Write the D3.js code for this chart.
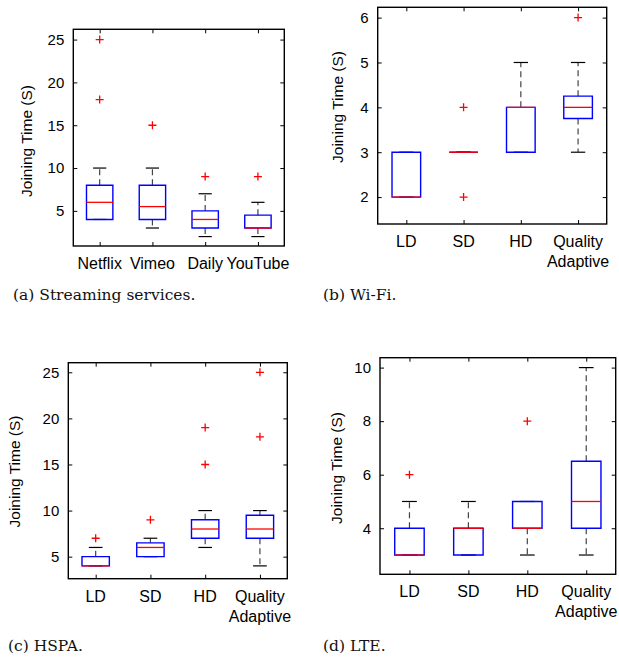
<!DOCTYPE html>
<html>
<head>
<meta charset="utf-8">
<script src="https://cdn.jsdelivr.net/npm/d3@7"></script>
<style>
  body { margin: 0; background: #fff; }
  svg { display: block; }
  .tick text { font-family: "Liberation Sans", Arial, sans-serif; }
</style>
</head>
<body>
<svg id="fig" width="619" height="657"></svg>
<script>
// Categories
const serviceCats = [['Netflix'], ['Vimeo'], ['Daily'], ['YouTube']];
const qualityCats = [['LD'], ['SD'], ['HD'], ['Quality', 'Adaptive']];

// (a) Streaming services
const streamLo  = [4, 3, 2, 2];
const streamQ1  = [4, 4, 3, 3];
const streamMed = [6, 5.5, 4, 3];
const streamQ3  = [8, 8, 5, 4.5];
const streamHi  = [10, 10, 7, 6];
const streamOut = [[18, 25], [15], [9], [9]];

// (b) Wi-Fi
const wifiLo  = [2, 3, 3, 3];
const wifiQ1  = [2, 3, 3, 3.75];
const wifiMed = [2, 3, 4, 4];
const wifiQ3  = [3, 3, 4, 4.25];
const wifiHi  = [3, 3, 5, 5];
const wifiOut = [[], [2, 4], [], [6]];

// (c) HSPA
const hspaLo  = [4, 5, 6, 4];
const hspaQ1  = [4, 5, 7, 7];
const hspaMed = [4, 6, 8, 8];
const hspaQ3  = [5, 6.5, 9, 9.5];
const hspaHi  = [6, 7, 10, 10];
const hspaOut = [[7], [9], [15, 19], [18, 25]];

// (d) LTE
const lteLo  = [3, 3, 3, 3];
const lteQ1  = [3, 3, 4, 4];
const lteMed = [3, 4, 4, 5];
const lteQ3  = [4, 4, 5, 6.5];
const lteHi  = [5, 5, 5, 10];
const lteOut = [[6], [], [8], []];

const yTicksBig = [5, 10, 15, 20, 25];
const yTicksWifi = [2, 3, 4, 5, 6];
const yTicksLte = [4, 6, 8, 10];

const yTitle = 'Joining Time (S)';

const panels = [
  { cats: serviceCats, lo: streamLo, q1: streamQ1, med: streamMed, q3: streamQ3, hi: streamHi, out: streamOut,
    box: [73.3, 284.3, 29.3, 246], domain: [0.9, 26.2], ticks: yTicksBig,
    ylab: [26.7, 141], caption: '(a) Streaming services.', cap: [13, 300] },
  { cats: qualityCats, lo: wifiLo, q1: wifiQ1, med: wifiMed, q3: wifiQ3, hi: wifiHi, out: wifiOut,
    box: [377.7, 606.7, 7.3, 224], domain: [1.4, 6.23], ticks: yTicksWifi,
    ylab: [338, 107], caption: '(b) Wi-Fi.', cap: [323, 300] },
  { cats: qualityCats, lo: hspaLo, q1: hspaQ1, med: hspaMed, q3: hspaQ3, hi: hspaHi, out: hspaOut,
    box: [68.3, 287.3, 362.7, 578.7], domain: [2.61, 26.04], ticks: yTicksBig,
    ylab: [15, 471.5], caption: '(c) HSPA.', cap: [8, 651] },
  { cats: qualityCats, lo: lteLo, q1: lteQ1, med: lteMed, q3: lteQ3, hi: lteHi, out: lteOut,
    box: [380, 615.7, 357.7, 574.3], domain: [2.28, 10.37], ticks: yTicksLte,
    ylab: [336.7, 468], caption: '(d) LTE.', cap: [323, 651] },
];

const svg = d3.select('#fig');

panels.forEach((p) => {
  const [x0, x1, y0, y1] = p.box;
  const g = svg.append('g');

  const x = d3.scaleBand()
    .domain(d3.range(p.cats.length))
    .range([x0, x1]);
  const y = d3.scaleLinear()
    .domain(p.domain)
    .range([y1, y0]);
  const bw = x.bandwidth();
  const cx = (i) => x(i) + bw / 2;

  // Ticks on all four sides, pointing inwards
  const yLeft = g.append('g')
    .attr('transform', `translate(${x0},0)`)
    .call(d3.axisLeft(y).tickValues(p.ticks).tickFormat(d3.format('d'))
      .tickSizeInner(-4).tickSizeOuter(0).tickPadding(9));
  yLeft.selectAll('text').style('font-size', '15px').attr('fill', '#000');

  g.append('g')
    .attr('transform', `translate(${x1},0)`)
    .call(d3.axisRight(y).tickValues(p.ticks).tickSizeInner(-4).tickSizeOuter(0).tickFormat(''));

  const xAxisScale = d3.scalePoint().domain(d3.range(p.cats.length)).range([cx(0), cx(p.cats.length - 1)]);
  g.append('g')
    .attr('transform', `translate(0,${y1})`)
    .call(d3.axisBottom(xAxisScale).tickSizeInner(-4).tickSizeOuter(0).tickFormat(''));
  g.append('g')
    .attr('transform', `translate(0,${y0})`)
    .call(d3.axisTop(xAxisScale).tickSizeInner(-4).tickSizeOuter(0).tickFormat(''));

  g.selectAll('.domain').remove();
  g.selectAll('.tick line').attr('stroke', '#000').attr('stroke-width', 1);

  // Category labels (some on two lines)
  const lab = g.selectAll('text.cat')
    .data(p.cats)
    .enter()
    .append('text')
    .attr('class', 'cat')
    .attr('x', (d, i) => cx(i))
    .attr('y', y1 + 23)
    .attr('text-anchor', 'middle')
    .style('font-family', '"Liberation Sans", Arial, sans-serif')
    .style('font-size', '16px');
  lab.selectAll('tspan')
    .data((d) => d)
    .enter()
    .append('tspan')
    .attr('x', function() { return this.parentNode.getAttribute('x'); })
    .attr('dy', (d, i) => (i === 0 ? 0 : 20))
    .text((d) => d);

  // Y title
  g.append('text')
    .attr('transform', `translate(${p.ylab[0]},${p.ylab[1]}) rotate(-90)`)
    .attr('text-anchor', 'middle')
    .attr('dy', '0.35em')
    .style('font-family', '"Liberation Sans", Arial, sans-serif')
    .style('font-size', '15.5px')
    .text(yTitle);

  const idx = d3.range(p.cats.length);

  // Whiskers (dashed)
  g.selectAll('line.wu')
    .data(idx.filter((i) => p.hi[i] > p.q3[i]))
    .enter()
    .append('line')
    .attr('x1', cx).attr('x2', cx)
    .attr('y1', (i) => y(p.q3[i]))
    .attr('y2', (i) => y(p.hi[i]))
    .attr('stroke', '#444')
    .attr('stroke-width', 1.2)
    .attr('stroke-dasharray', '6,4');

  g.selectAll('line.wl')
    .data(idx.filter((i) => p.lo[i] < p.q1[i]))
    .enter()
    .append('line')
    .attr('x1', cx).attr('x2', cx)
    .attr('y1', (i) => y(p.q1[i]))
    .attr('y2', (i) => y(p.lo[i]))
    .attr('stroke', '#444')
    .attr('stroke-width', 1.2)
    .attr('stroke-dasharray', '6,4');

  // Whisker caps
  const caps = [];
  idx.forEach((i) => { caps.push({ i, v: p.lo[i] }); caps.push({ i, v: p.hi[i] }); });
  g.selectAll('line.cap')
    .data(caps)
    .enter()
    .append('line')
    .attr('x1', (d) => cx(d.i) - bw / 8)
    .attr('x2', (d) => cx(d.i) + bw / 8)
    .attr('y1', (d) => y(d.v))
    .attr('y2', (d) => y(d.v))
    .attr('stroke', '#000')
    .attr('stroke-width', 1.2);

  // Boxes
  g.selectAll('path.box')
    .data(idx)
    .enter()
    .append('path')
    .attr('d', (i) => {
      const l = cx(i) - bw / 4;
      const r = cx(i) + bw / 4;
      return `M${l},${y(p.q1[i])}H${r}V${y(p.q3[i])}H${l}Z`;
    })
    .attr('fill', 'none')
    .attr('stroke', '#0000ff')
    .attr('stroke-width', 1.4);

  // Medians
  g.selectAll('line.med')
    .data(idx)
    .enter()
    .append('line')
    .attr('x1', (i) => cx(i) - bw / 4)
    .attr('x2', (i) => cx(i) + bw / 4)
    .attr('y1', (i) => y(p.med[i]))
    .attr('y2', (i) => y(p.med[i]))
    .attr('stroke', '#ff0000')
    .attr('stroke-width', 1.3);

  // Outliers
  const outs = [];
  idx.forEach((i) => p.out[i].forEach((v) => outs.push({ i, v })));
  g.selectAll('path.out')
    .data(outs)
    .enter()
    .append('path')
    .attr('transform', (d) => `translate(${cx(d.i)},${y(d.v)})`)
    .attr('d', 'M-4,0H4M0,-4V4')
    .attr('stroke', '#ff0000')
    .attr('stroke-width', 1.3);

  // Frame
  g.append('rect')
    .attr('x', x0).attr('y', y0)
    .attr('width', x1 - x0).attr('height', y1 - y0)
    .attr('fill', 'none')
    .attr('stroke', '#000')
    .attr('stroke-width', 1.4);

  // Caption
  svg.append('text')
    .attr('x', p.cap[0])
    .attr('y', p.cap[1])
    .style('font-family', '"DejaVu Serif", serif')
    .style('font-size', '15.5px')
    .attr('fill', '#111')
    .text(p.caption);
});
</script>
</body>
</html>
